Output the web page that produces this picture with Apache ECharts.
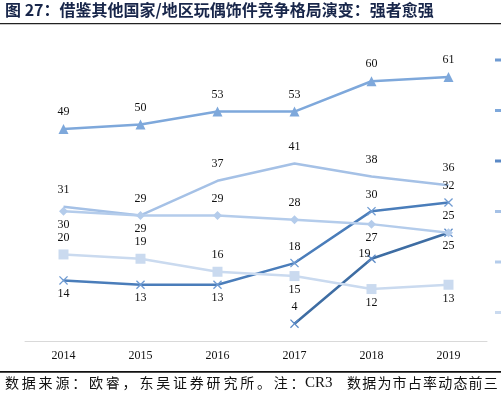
<!DOCTYPE html>
<html>
<head>
<meta charset="utf-8">
<script src="https://cdn.jsdelivr.net/npm/echarts@6/dist/echarts.min.js"></script>
<style>html,body{margin:0;padding:0;background:#fff}#c{width:501px;height:396px}</style>
</head>
<body>
<div id="c"></div>
<script>
// ---- data ----
const years = ['2014', '2015', '2016', '2017', '2018', '2019'];
const names = ['美国CR3', '日本CR3', '中国CR3', '英国CR3', '德国CR3', '法国CR3'];
const valsE = [14, 13, 13, 18, 30, 32];
const valsA = [49, 50, 53, 53, 60, 61];
const valsF = [null, null, null, 4, 19, 25];
const valsB = [31, 29, 37, 41, 38, 36];
const valsC = [30, 29, 29, 28, 27, 25];
const valsD = [20, 19, 16, 15, 12, 13];
// label sides
const posE = ['bottom', 'bottom', 'bottom', 'top', 'top', 'top'];
const posA = ['top', 'top', 'top', 'top', 'top', 'top'];
const posF = ['top', 'top', 'top', 'top', 'top', 'top'];
const posB = ['top', 'top', 'top', 'top', 'top', 'top'];
const posC = ['bottom', 'bottom', 'top', 'top', 'bottom', 'bottom'];
const posD = ['top', 'top', 'top', 'bottom', 'bottom', 'bottom'];
// small label nudges (px)
const nudgeF = [[0, 0], [0, 0], [0, 0], [0, 0], [-7, 12], [0, 0]];
const titleText = '图 27：借鉴其他国家/地区玩偶饰件竞争格局演变：强者愈强';
const srcPart1 = '数据来源：欧睿，东吴证券研究所。注：';
const srcPart2 = 'CR3';
const srcPart3 = '数据为市占率动态前三';

const serif = '"Liberation Serif", "Times New Roman", serif';
const cjk = '"Noto Sans CJK SC", sans-serif';
const XSYM = 'path://M0,1L1,0L5,4L9,0L10,1L6,5L10,9L9,10L5,6L1,10L0,9L4,5Z';

function mk(vals, pos, dist, nudge) {
  return vals.map((v, i) => v == null ? null : ({
    value: v,
    label: { position: pos[i], distance: dist[pos[i]], offset: nudge ? nudge[i] : [0, 0] }
  }));
}

const labelBase = { show: true, fontFamily: serif, fontSize: 12, color: '#111' };

function series(name, vals, pos, lineColor, symColor, symbol, size, dist, nudge) {
  return {
    name: name, type: 'line', data: mk(vals, pos, dist, nudge),
    symbol: symbol, symbolSize: size, showSymbol: true,
    lineStyle: { color: lineColor, width: 2.5 },
    itemStyle: { color: symColor },
    label: labelBase,
    connectNulls: false, z: 3,
    emphasis: { disabled: true }
  };
}

const graphics = [];
graphics.push({ type: 'text', left: 5, top: 2, style: { text: titleText, font: 'bold 16px ' + cjk, fill: '#18264a' } });
graphics.push({ type: 'rect', shape: { x: 0, y: 23, width: 501, height: 1.3 }, style: { fill: '#222' } });
graphics.push({ type: 'rect', shape: { x: 0, y: 371, width: 501, height: 1.8 }, style: { fill: '#111' } });
// source note, laid out character by character
Array.from(srcPart1).forEach((ch, i) => {
  graphics.push({ type: 'text', x: 5 + i * 16.8, y: 376, style: { text: ch, font: '14px ' + cjk, fill: '#111' } });
});
graphics.push({ type: 'text', x: 305, y: 376, style: { text: srcPart2, font: '15px ' + serif, fill: '#111' } });
Array.from(srcPart3).forEach((ch, i) => {
  graphics.push({ type: 'text', x: 347 + i * 15.2, y: 376, style: { text: ch, font: '14px ' + cjk, fill: '#111' } });
});

const chart = echarts.init(document.getElementById('c'), null, { renderer: 'canvas' });
chart.setOption({
  animation: false,
  backgroundColor: '#fff',
  grid: { left: 25, right: 14, top: 38, bottom: 55 },
  legend: {
    orient: 'vertical', left: 490, top: 49,
    icon: 'rect', itemWidth: 20, itemHeight: 3, itemGap: 38.5,
    textStyle: { fontSize: 12, lineHeight: 12, fontFamily: cjk },
    data: names
  },
  xAxis: {
    type: 'category', data: years, boundaryGap: true,
    axisLine: { lineStyle: { color: '#d9d9d9', width: 1 } },
    axisTick: { show: false },
    axisLabel: { fontFamily: serif, fontSize: 12, color: '#111', margin: 9 }
  },
  yAxis: { type: 'value', min: 0, max: 70, show: false, splitLine: { show: false } },
  series: [
    series(names[0], valsE, posE, '#4A7DBA', '#6F9BD2', XSYM, 9, { top: 6, bottom: 3 }),
    series(names[1], valsA, posA, '#7EA8DB', '#7EA8DB', 'triangle', 10, { top: 6, bottom: 3 }),
    series(names[2], valsF, posF, '#3E6DA3', '#5A89C6', XSYM, 9, { top: 6, bottom: 3 }, nudgeF),
    series(names[3], valsB, posB, '#A5C1E6', '#A5C1E6', 'circle', 0.1, { top: 11, bottom: 8 }),
    series(names[4], valsC, posC, '#B4CCEB', '#B4CCEB', 'diamond', 9, { top: 6, bottom: 3 }),
    series(names[5], valsD, posD, '#CADAEF', '#CADAEF', 'rect', 10, { top: 6, bottom: 3 })
  ],
  graphic: graphics
});
</script>
</body>
</html>
